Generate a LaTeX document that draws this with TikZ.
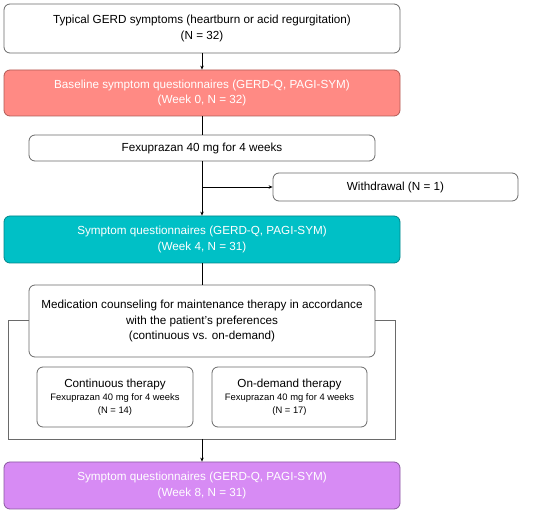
\documentclass[tikz,border=0pt]{standalone}
\usepackage{fontspec}
\setmainfont{Liberation Sans}
\usetikzlibrary{arrows.meta}
\definecolor{boxline}{HTML}{6A6A6A}
\definecolor{redfill}{HTML}{FF8A84}
\definecolor{redline}{HTML}{B05A55}
\definecolor{tealfill}{HTML}{00C0C6}
\definecolor{tealline}{HTML}{00868A}
\definecolor{purpfill}{HTML}{D78BF4}
\definecolor{purpline}{HTML}{8A58A0}
\tikzset{
  base/.style={rounded corners=6pt, line width=0.8pt, align=center, inner sep=0pt, font=\fontsize{11.7}{15.3}\selectfont},
  whitebox/.style={base, draw=boxline, fill=white, text=black},
  redbox/.style={base, draw=redline, fill=redfill, text=white},
  tealbox/.style={base, draw=tealline, fill=tealfill, text=white},
  purpbox/.style={base, draw=purpline, fill=purpfill, text=white},
  arr/.style={line width=0.9pt, -{Stealth[length=4pt,width=3.5pt]}},
  ln/.style={line width=0.9pt},
  frame/.style={line width=0.8pt, draw=boxline}
}
\begin{document}
\begin{tikzpicture}[x=1pt,y=-1pt]
\useasboundingbox (0,0) rectangle (550,513);
\node[whitebox, minimum width=396pt, minimum height=49pt] (b1) at (202,28.5) {Typical GERD symptoms (heartburn or acid regurgitation)\\(N = 32)};
\node[redbox, minimum width=396pt, minimum height=46pt] (b2) at (202,93) {Baseline symptom questionnaires (GERD-Q, PAGI-SYM)\\(Week 0, N = 32)};
\node[whitebox, minimum width=346pt, minimum height=26pt] (b3) at (202,148) {Fexuprazan 40 mg for 4 weeks};
\node[whitebox, minimum width=245pt, minimum height=28pt] (wd) at (395.5,187) {Withdrawal (N = 1)};
\node[tealbox, minimum width=396pt, minimum height=47pt] (b4) at (202,239.5) {Symptom questionnaires (GERD-Q, PAGI-SYM)\\(Week 4, N = 31)};
\node[whitebox, minimum width=346pt, minimum height=72pt] (mc) at (202,321) {Medication counseling for maintenance therapy in accordance\\with the patient's preferences\\(continuous vs. on-demand)};
\node[whitebox, minimum width=156pt, minimum height=60pt, font=\fontsize{11.7}{13}\selectfont] (ct) at (115,397) {Continuous therapy\\{\fontsize{9.4}{12}\selectfont Fexuprazan 40 mg for 4 weeks}\\{\fontsize{9.4}{12}\selectfont (N = 14)}};
\node[whitebox, minimum width=155pt, minimum height=60pt, font=\fontsize{11.7}{13}\selectfont] (od) at (289.5,397) {On-demand therapy\\{\fontsize{9.4}{12}\selectfont Fexuprazan 40 mg for 4 weeks}\\{\fontsize{9.4}{12}\selectfont (N = 17)}};
\node[purpbox, minimum width=396pt, minimum height=47pt] (b5) at (202,485.5) {Symptom questionnaires (GERD-Q, PAGI-SYM)\\(Week 8, N = 31)};
% frame
\coordinate (fl) at (8,320);
\coordinate (fr) at (395,320);
\coordinate (fbl) at (8,439);
\coordinate (fbr) at (395,439);
\coordinate (fb) at (202,439);
\draw[frame] (mc.west |- fl) -- (fl) -- (fbl) -- (fbr) -- (fr) -- (mc.east |- fr);
% connectors
\draw[arr] (b1.south) -- (b2.north);
\draw[ln] (b2.south) -- (b3.north);
\coordinate (br) at (202,187);
\draw[arr] (b3.south) -- (b4.north);
\draw[arr] (br) -- (wd.west);
\draw[ln] (b4.south) -- (mc.north);
\draw[arr] (fb) -- (b5.north);
\end{tikzpicture}
\end{document}
